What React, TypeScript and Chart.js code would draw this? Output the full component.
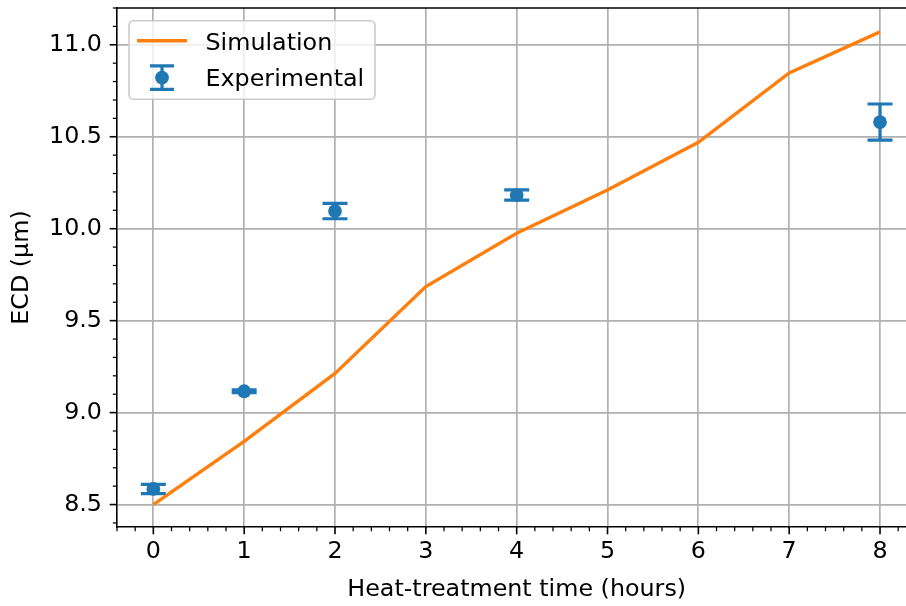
import React, { useEffect, useRef } from "react";
import { Chart, registerables } from "chart.js";

Chart.register(...registerables);

// ---- data ----
const hours = [0, 1, 2, 3, 4, 5, 6, 7, 8];
const simulation = [8.5, 8.843, 9.213, 9.685, 9.975, 10.21, 10.47, 10.847, 11.07];
const expHours = [0, 1, 2, 4, 8];
const expValues = [8.585, 9.116, 10.096, 10.183, 10.58];
const expErrors = [0.025, 0.008, 0.042, 0.028, 0.098];
const xMajorTicks = [0, 1, 2, 3, 4, 5, 6, 7, 8];
const yMajorTicks = [8.5, 9.0, 9.5, 10.0, 10.5, 11.0];
const xLabel = "Heat-treatment time (hours)";
const yLabel = "ECD (μm)";
const legendLabels = ["Simulation", "Experimental"];

// full axis range is -0.4..8.4; the figure is cropped on the right
const X_FULL_MIN = -0.4;
const X_FULL_MAX = 8.4;
const X_MIN = -0.4;
const X_MAX = 8.286;
const Y_MIN = 8.378;
const Y_MAX = 11.2;

const ORANGE = "#ff7f0e";
const BLUE = "#1f77b4";
const FONT_FAMILY = "'DejaVu Sans', sans-serif";
const FONT_SIZE = 23.8;
const LINE_W = 3.4;
const MARKER_R = 6.9;

function minorTicks(min: number, max: number, step: number, majors: number[]) {
  const out: number[] = [];
  const start = Math.ceil(min / step - 1e-9);
  const end = Math.floor(max / step + 1e-9);
  for (let i = start; i <= end; i++) {
    const v = +(i * step).toFixed(6);
    if (!majors.some((m) => Math.abs(m - v) < 1e-6)) out.push(v);
  }
  return out;
}

const decorPlugin = {
  id: "decor",
  beforeDatasetsDraw(chart: any) {
    const { ctx, chartArea, scales } = chart;
    const xs = scales.x;
    const ys = scales.y;
    ctx.save();
    ctx.beginPath();
    ctx.rect(chartArea.left, chartArea.top, chartArea.right - chartArea.left, chartArea.bottom - chartArea.top);
    ctx.clip();
    ctx.strokeStyle = BLUE;
    ctx.lineWidth = 3.2;
    const capHalf = 12.5;
    expHours.forEach((h, i) => {
      const px = xs.getPixelForValue(h);
      const top = ys.getPixelForValue(expValues[i] + expErrors[i]);
      const bot = ys.getPixelForValue(expValues[i] - expErrors[i]);
      ctx.beginPath();
      ctx.moveTo(px, top);
      ctx.lineTo(px, bot);
      ctx.moveTo(px - capHalf, top);
      ctx.lineTo(px + capHalf, top);
      ctx.moveTo(px - capHalf, bot);
      ctx.lineTo(px + capHalf, bot);
      ctx.stroke();
    });
    ctx.restore();
  },
  afterDraw(chart: any) {
    const { ctx, chartArea, scales } = chart;
    const xs = scales.x;
    const ys = scales.y;
    ctx.save();
    // top spine
    ctx.strokeStyle = "#000";
    ctx.lineWidth = 1.6;
    ctx.beginPath();
    ctx.moveTo(chartArea.left, chartArea.top);
    ctx.lineTo(chartArea.right, chartArea.top);
    ctx.stroke();

    // ticks
    const drawXTick = (v: number, len: number, w: number) => {
      const px = xs.getPixelForValue(v);
      ctx.lineWidth = w;
      ctx.beginPath();
      ctx.moveTo(px, chartArea.bottom);
      ctx.lineTo(px, chartArea.bottom + len);
      ctx.stroke();
    };
    const drawYTick = (v: number, len: number, w: number) => {
      const py = ys.getPixelForValue(v);
      ctx.lineWidth = w;
      ctx.beginPath();
      ctx.moveTo(chartArea.left, py);
      ctx.lineTo(chartArea.left - len, py);
      ctx.stroke();
    };
    xMajorTicks.forEach((v) => drawXTick(v, 7.3, 1.6));
    minorTicks(X_MIN, X_MAX, 0.2, xMajorTicks).forEach((v) => drawXTick(v, 4.2, 1.25));
    yMajorTicks.forEach((v) => drawYTick(v, 7.3, 1.6));
    minorTicks(Y_MIN, Y_MAX, 0.1, yMajorTicks).forEach((v) => drawYTick(v, 4.2, 1.25));

    // x axis title, centred on the full (uncropped) axis
    ctx.fillStyle = "#000";
    ctx.font = `${FONT_SIZE}px ${FONT_FAMILY}`;
    ctx.textAlign = "center";
    ctx.textBaseline = "middle";
    ctx.fillText(xLabel, xs.getPixelForValue((X_FULL_MIN + X_FULL_MAX) / 2), 590);

    // legend
    const bx = 129, by = 20.7, bw = 246, bh = 78.6, r = 4.6;
    ctx.beginPath();
    ctx.moveTo(bx + r, by);
    ctx.lineTo(bx + bw - r, by);
    ctx.arcTo(bx + bw, by, bx + bw, by + r, r);
    ctx.lineTo(bx + bw, by + bh - r);
    ctx.arcTo(bx + bw, by + bh, bx + bw - r, by + bh, r);
    ctx.lineTo(bx + r, by + bh);
    ctx.arcTo(bx, by + bh, bx, by + bh - r, r);
    ctx.lineTo(bx, by + r);
    ctx.arcTo(bx, by, bx + r, by, r);
    ctx.closePath();
    ctx.fillStyle = "rgba(255,255,255,0.8)";
    ctx.fill();
    ctx.strokeStyle = "#cccccc";
    ctx.lineWidth = 1.6;
    ctx.stroke();

    // simulation handle
    ctx.strokeStyle = ORANGE;
    ctx.lineWidth = LINE_W;
    ctx.beginPath();
    ctx.moveTo(137, 40.8);
    ctx.lineTo(187, 40.8);
    ctx.stroke();

    // experimental handle
    const hx = 162, hy = 77.6, hh = 11.8, hc = 12;
    ctx.strokeStyle = BLUE;
    ctx.lineWidth = 3.2;
    ctx.beginPath();
    ctx.moveTo(hx, hy - hh);
    ctx.lineTo(hx, hy + hh);
    ctx.moveTo(hx - hc, hy - hh);
    ctx.lineTo(hx + hc, hy - hh);
    ctx.moveTo(hx - hc, hy + hh);
    ctx.lineTo(hx + hc, hy + hh);
    ctx.stroke();
    ctx.fillStyle = BLUE;
    ctx.beginPath();
    ctx.arc(hx, hy, MARKER_R, 0, Math.PI * 2);
    ctx.fill();

    ctx.fillStyle = "#000";
    ctx.textAlign = "left";
    ctx.textBaseline = "alphabetic";
    ctx.fillText(legendLabels[0], 205.5, 49.5);
    ctx.fillText(legendLabels[1], 205.5, 86.3);
    ctx.restore();
  },
};

export default function App() {
  const canvasRef = useRef<HTMLCanvasElement | null>(null);

  useEffect(() => {
    if (!canvasRef.current) return;
    const font = { family: FONT_FAMILY, size: FONT_SIZE };
    const chart = new Chart(canvasRef.current, {
      type: "line",
      data: {
        datasets: [
          {
            label: legendLabels[0],
            data: hours.map((x, i) => ({ x, y: simulation[i] })),
            borderColor: ORANGE,
            backgroundColor: ORANGE,
            borderWidth: LINE_W,
            pointRadius: 0,
            tension: 0,
            fill: false,
          },
          {
            type: "scatter",
            label: legendLabels[1],
            data: expHours.map((x, i) => ({ x, y: expValues[i] })),
            backgroundColor: BLUE,
            borderColor: BLUE,
            borderWidth: 0,
            pointRadius: MARKER_R,
            showLine: false,
          } as any,
        ],
      },
      options: {
        animation: false,
        responsive: false,
        devicePixelRatio: 1,
        layout: { autoPadding: false, padding: { top: 8, right: 0, left: 0, bottom: 0 } },
        plugins: {
          legend: { display: false },
          tooltip: { enabled: false },
        },
        scales: {
          x: {
            type: "linear",
            min: X_MIN,
            max: X_MAX,
            afterBuildTicks: (s: any) => {
              s.ticks = xMajorTicks.map((v) => ({ value: v }));
            },
            afterFit: (s: any) => {
              s.height = 79;
              s.paddingLeft = 0;
              s.paddingRight = 0;
            },
            ticks: {
              callback: (v: any) => String(v),
              font,
              color: "#000",
              padding: 10.5,
              maxRotation: 0,
              autoSkip: false,
            },
            grid: { color: "#b0b0b0", lineWidth: 1.7, drawTicks: false },
            border: { display: true, color: "#000", width: 1.6 },
            title: { display: false },
          },
          y: {
            type: "linear",
            min: Y_MIN,
            max: Y_MAX,
            afterBuildTicks: (s: any) => {
              s.ticks = yMajorTicks.map((v) => ({ value: v }));
            },
            afterFit: (s: any) => {
              s.width = 117;
              s.paddingTop = 0;
              s.paddingBottom = 0;
            },
            ticks: {
              callback: (v: any) => Number(v).toFixed(1),
              font,
              color: "#000",
              padding: 15,
              autoSkip: false,
            },
            grid: { color: "#b0b0b0", lineWidth: 1.7, drawTicks: false },
            border: { display: true, color: "#000", width: 1.6 },
            title: {
              display: true,
              text: yLabel,
              font,
              color: "#000",
              padding: { top: 8, bottom: 0 },
            },
          },
        },
      },
      plugins: [decorPlugin],
    });
    return () => chart.destroy();
  }, []);

  return (
    <div
      style={{
        position: "absolute",
        left: 0,
        top: 0,
        width: 906,
        height: 606,
        overflow: "hidden",
        background: "#fff",
      }}
    >
      <canvas
        ref={canvasRef}
        width={906}
        height={606}
        style={{ display: "block", width: 906, height: 606 }}
      />
    </div>
  );
}
